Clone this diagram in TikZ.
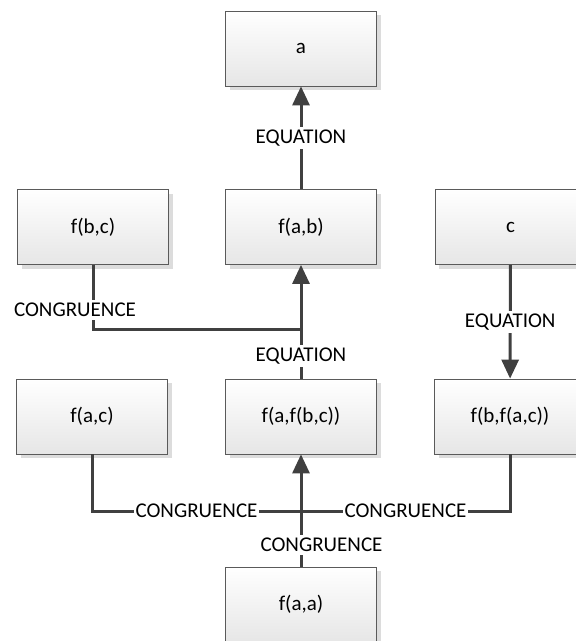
\documentclass[tikz,border=0pt]{standalone}
\usepackage{fontspec}
\setmainfont{Carlito}
\usetikzlibrary{arrows.meta,shadows}
\definecolor{linegray}{HTML}{404040}
\definecolor{boxedge}{HTML}{5A5A5A}
\definecolor{boxlow}{HTML}{E6E6E6}
\definecolor{shadowgray}{HTML}{DCDCDC}
\begin{document}
\begin{tikzpicture}[x=1pt,y=-1pt,
  font=\fontsize{21pt}{25pt}\selectfont,
  term/.style={draw=boxedge, line width=0.8pt, top color=white, bottom color=boxlow,
    minimum width=151pt, minimum height=75pt, inner sep=0pt,
    drop shadow={shadow xshift=4pt, shadow yshift=-4pt, fill=shadowgray, opacity=1}},
  conn/.style={draw=linegray, line width=3pt},
  tip/.style={-{Triangle[length=19pt,width=17pt]}},
  lbl/.style={fill=white, text=black, inner xsep=1.5pt, inner ysep=3pt}]
\useasboundingbox (0,0) rectangle (576,641);

% terms
\node[term] (a)     at (301,48.5)  {a};
\node[term] (fbc)   at (93,227)    {f(b,c)};
\node[term] (fab)   at (301,227)   {f(a,b)};
\node[term] (c)     at (510.5,227) {c};
\node[term] (fac)   at (92,416.5)  {f(a,c)};
\node[term] (fafbc) at (301,416.5) {f(a,f(b,c))};
\node[term] (fbfac) at (510,416.5) {f(b,f(a,c))};
\node[term] (faa)   at (301,604.5) {f(a,a)};

% junction points where side branches meet the main line
\coordinate (j1) at (301,329);
\coordinate (j2) at (301,511);

% upper part
\draw[conn,tip] (fab) -- node[lbl] {EQUATION} (a);
\draw[conn] (fbc.south) |- (j1);
\draw[conn,tip] (fafbc.north) -- node[lbl,pos=0.2] {EQUATION} (fab.south);
\node[lbl] (congbc) at (75,310) {CONGRUENCE};
\draw[conn,tip] (c) -- node[lbl] {EQUATION} (fbfac);

% lower part
\draw[conn] (fac.south) |- node[lbl,pos=0.75] {CONGRUENCE} (j2);
\draw[conn] (fbfac.south) |- node[lbl,pos=0.75] {CONGRUENCE} (j2);
\draw[conn,tip] (faa.north) -- (fafbc.south);
\node[lbl] (congaa) at (321.5,545) {CONGRUENCE};
\end{tikzpicture}
\end{document}
